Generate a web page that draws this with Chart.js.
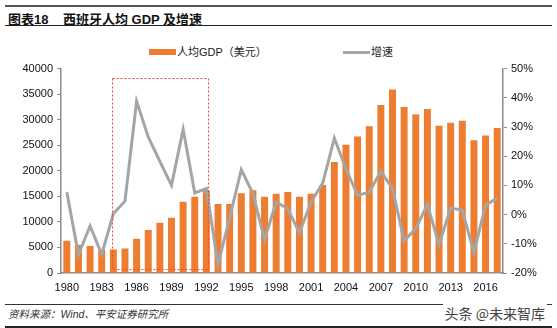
<!DOCTYPE html>
<html>
<head>
<meta charset="utf-8">
<script src="https://cdn.jsdelivr.net/npm/chart.js@4.4.1/dist/chart.umd.min.js"></script>
<style>
  html, body { margin: 0; padding: 0; background: #fff; }
  body { width: 557px; height: 328px; position: relative; overflow: hidden;
         font-family: "Liberation Sans", Arial, "Noto Sans CJK SC", sans-serif; }
  .rule { position: absolute; left: 5px; width: 547px; }
  #title { position: absolute; left: 8px; top: 9px; font-size: 13px; font-weight: bold; color: #111;
           white-space: pre; }
  #source { position: absolute; left: 8px; top: 306px; font-size: 10.5px; font-style: italic; color: #333; }
  #mark { position: absolute; right: 10px; top: 303px; font-size: 14px; color: #444;
          font-family: "Noto Sans CJK SC", sans-serif; background: #fff; padding: 0 2px; }
  #wrap { position: absolute; left: 0; top: 58px; width: 557px; height: 242px; }
  .key { position: absolute; }
  .key-text { position: absolute; top: 45px; font-size: 11px; line-height: 14px; color: #222; }
</style>
</head>
<body>
<div class="rule" style="top:5px;height:2px;background:#555;"></div>
<div id="title">图表18    西班牙人均 GDP 及增速</div>
<div class="rule" style="top:25px;height:1px;background:#222;"></div>

<div class="key" style="left:149px;top:49px;width:27px;height:6px;background:#ED7D31;"></div>
<div class="key-text" style="left:177px;">人均GDP（美元）</div>
<div class="key" style="left:343px;top:51px;width:27px;height:3px;background:#A5A5A5;"></div>
<div class="key-text" style="left:371px;">增速</div>

<div id="wrap"><canvas id="gdp-chart" width="557" height="242"></canvas></div>
<div class="rule" style="top:304px;height:1px;background:#333;"></div>
<div id="source">资料来源：Wind、平安证券研究所</div>
<div id="mark">头条 @未来智库</div>
<div class="rule" style="top:326px;height:1.5px;background:#222;"></div>

<script>
'use strict';

// 年份 1980-2017
var YEARS = ['1980', '1981', '1982', '1983', '1984', '1985', '1986', '1987', '1988', '1989',
  '1990', '1991', '1992', '1993', '1994', '1995', '1996', '1997', '1998', '1999',
  '2000', '2001', '2002', '2003', '2004', '2005', '2006', '2007', '2008', '2009',
  '2010', '2011', '2012', '2013', '2014', '2015', '2016', '2017'];

// 人均GDP（美元）
var GDP_PER_CAPITA = [6300, 5550, 5300, 4550, 4600, 4800, 6700, 8400, 9850, 10800,
  13950, 14900, 16200, 13500, 13500, 15600, 16200, 14900, 15500, 15850,
  14900, 15500, 17200, 21700, 25100, 26700, 28700, 32900, 35900, 32500,
  31000, 32100, 28800, 29400, 29800, 26000, 26900, 28400];

// 增速（%）
var GROWTH = [7.7, -13.7, -3.9, -13.6, 0.3, 4.6, 38.8, 26.6, 18.2, 10.0,
  29.2, 7.4, 8.9, -17.2, -1.0, 15.4, 7.2, -8.6, 4.3, 2.0,
  -6.3, 4.3, 10.8, 26.2, 15.7, 6.6, 7.7, 14.8, 8.9, -9.0,
  -4.8, 3.5, -10.3, 2.3, 1.5, -13.0, 3.2, 5.7];

var GDP_TICKS = { min: 0, max: 40000, step: 5000 };
var GROWTH_TICKS = { min: -20, max: 50, step: 10 };

// 红色虚线框：1984-1992
var HIGHLIGHT = { from: '1984', to: '1992', low: 700, high: 38100 };

var ORANGE = '#ED7D31';
var GREY = '#A5A5A5';
var AXIS = '#8c8c8c';
var FONT = '"Liberation Sans", Arial, "Noto Sans CJK SC", sans-serif';

var highlightBox = {
  id: 'highlightBox',
  afterDatasetsDraw: function (chart) {
    var x = chart.scales.x, y = chart.scales.y;
    var ctx = chart.ctx;
    var left = x.getPixelForValue(YEARS.indexOf(HIGHLIGHT.from)) - 1.5;
    var right = x.getPixelForValue(YEARS.indexOf(HIGHLIGHT.to)) + 1.5;
    var top = y.getPixelForValue(HIGHLIGHT.high);
    var bottom = y.getPixelForValue(HIGHLIGHT.low);
    ctx.save();
    ctx.strokeStyle = '#ff4040';
    ctx.lineWidth = 1;
    ctx.setLineDash([2, 2]);
    ctx.strokeRect(Math.round(left) + 0.5, Math.round(top) + 0.5, Math.round(right - left), Math.round(bottom - top));
    ctx.restore();
  }
};

var ctx = document.getElementById('gdp-chart').getContext('2d');
new Chart(ctx, {
  type: 'bar',
  data: {
    labels: YEARS,
    datasets: [
      {
        type: 'line',
        label: '增速',
        data: GROWTH,
        yAxisID: 'y1',
        borderColor: GREY,
        backgroundColor: GREY,
        borderWidth: 3,
        pointRadius: 0,
        tension: 0,
        order: 0
      },
      {
        label: '人均GDP（美元）',
        data: GDP_PER_CAPITA,
        yAxisID: 'y',
        backgroundColor: ORANGE,
        borderWidth: 0,
        categoryPercentage: 1,
        barPercentage: 0.6,
        order: 1
      }
    ]
  },
  options: {
    responsive: false,
    animation: false,
    layout: { padding: { left: 0, right: 0, top: 10, bottom: 0 } },
    plugins: {
      legend: { display: false },
      title: { display: false },
      tooltip: { enabled: false }
    },
    scales: {
      x: {
        offset: true,
        grid: { display: false },
        border: { display: true, color: AXIS, width: 1.5 },
        ticks: {
          autoSkip: false,
          maxRotation: 0,
          padding: 0,
          color: '#111',
          font: { size: 11, family: FONT },
          callback: function (v, i) { return i % 3 === 0 ? YEARS[i] : ''; }
        },
        afterFit: function (scale) { scale.height = 27; }
      },
      y: {
        position: 'left',
        min: GDP_TICKS.min,
        max: GDP_TICKS.max,
        grid: { drawOnChartArea: false, tickLength: 4, color: AXIS },
        border: { display: true, color: AXIS, width: 1.5 },
        ticks: {
          stepSize: GDP_TICKS.step,
          padding: 4,
          color: '#111',
          font: { size: 11, family: FONT },
          callback: function (v) { return String(v); }
        },
        afterFit: function (scale) { scale.width = 61; }
      },
      y1: {
        position: 'right',
        min: GROWTH_TICKS.min,
        max: GROWTH_TICKS.max,
        grid: { drawOnChartArea: false, tickLength: 4, color: AXIS },
        border: { display: true, color: AXIS, width: 1.5 },
        ticks: {
          stepSize: GROWTH_TICKS.step,
          padding: 4,
          color: '#111',
          font: { size: 11, family: FONT },
          callback: function (v) { return v + '%'; }
        },
        afterFit: function (scale) { scale.width = 54; }
      }
    }
  },
  plugins: [highlightBox]
});
</script>
</body>
</html>
